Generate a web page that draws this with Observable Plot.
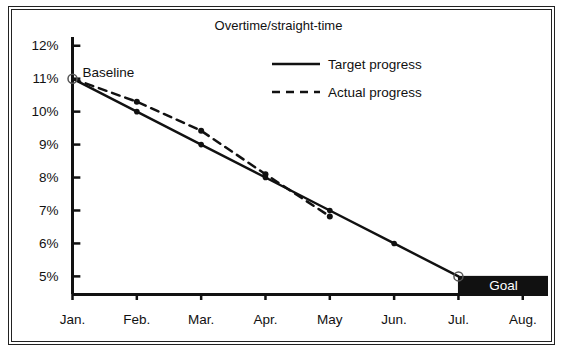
<!DOCTYPE html>
<html><head><meta charset="utf-8">
<script src="https://cdn.jsdelivr.net/npm/d3@7"></script>
<script src="https://cdn.jsdelivr.net/npm/@observablehq/plot@0.6"></script>
<style>
body{margin:0;background:#fff;font-family:"Liberation Sans",Arial,sans-serif;}
#wrap{position:relative;width:566px;height:351px;}
#frame{position:absolute;left:8px;top:6px;width:539px;height:331px;border:4px double #222;}
#chart{position:absolute;left:0;top:0;}
#legend{position:absolute;left:272px;top:56px;font-size:13.5px;color:#111;}
#legend div{display:flex;align-items:center;height:16px;margin-bottom:12px;}
#legend svg{margin-right:6px;}
</style></head>
<body><div id="wrap"><div id="frame"></div><div id="chart"></div>
<div id="legend">
<div><svg width="50" height="6"><line x1="0" y1="3" x2="48" y2="3" stroke="#111" stroke-width="2.5"/></svg>Target progress</div>
<div><svg width="50" height="6"><line x1="0" y1="3" x2="48" y2="3" stroke="#111" stroke-width="2.5" stroke-dasharray="8,6"/></svg>Actual progress</div>
</div></div>
<script>
const months = ["Jan.","Feb.","Mar.","Apr.","May","Jun.","Jul.","Aug."];
const targetMonths = [0,1,2,3,4,5,6];
const targetValues = [11,10,9,8,7,6,5];
const actualMonths = [0,1,2,3,4];
const actualValues = [11,10.3,9.42,8.1,6.82];
const yTicks = [5,6,7,8,9,10,11,12];
const title = "Overtime/straight-time";
const baselineLabel = "Baseline";
const goalLabel = "Goal";
const goalValue = 5;
const goalMonth = 6;

const xMax = 7.4, yMin = 4.45, yMax = 12.25;
const target = targetMonths.map((m,i)=>({m, v: targetValues[i]}));
const actual = actualMonths.map((m,i)=>({m, v: actualValues[i]}));
const ink = "#111";

const chart = Plot.plot({
  width: 566, height: 351,
  marginLeft: 72, marginRight: 18, marginTop: 37, marginBottom: 57,
  style: {fontFamily: "'Liberation Sans', Arial, sans-serif", fontSize: "13px", color: ink, background: "transparent"},
  x: {domain: [0, xMax]},
  y: {domain: [yMin, yMax]},
  marks: [
    Plot.rect([{x1: goalMonth, x2: xMax, y1: yMin, y2: goalValue}], {x1:"x1", x2:"x2", y1:"y1", y2:"y2", fill: ink}),
    Plot.text([goalLabel], {x: () => (goalMonth + xMax)/2, y: () => (yMin + goalValue)/2, fill: "white", fontSize: 13.5, text: d => d}),
    Plot.axisY(yTicks, {tickSize: 0, tickPadding: 14, tickFormat: d => d + "%", label: null, fontSize: 13.5}),
    Plot.ruleY(yTicks, {x1: 0, x2: 0.13, stroke: ink, strokeWidth: 2.5}),
    Plot.axisX(d3.range(months.length), {tickSize: 6, tickPadding: 14, tickFormat: d => months[d], label: null, strokeWidth: 2.5, fontSize: 13.5}),
    Plot.ruleX([0], {y1: yMin, y2: yMax, stroke: ink, strokeWidth: 3}),
    Plot.ruleY([yMin], {x1: 0, x2: xMax, stroke: ink, strokeWidth: 3}),
    Plot.line(target, {x: "m", y: "v", stroke: ink, strokeWidth: 2.4}),
    Plot.line(actual, {x: "m", y: "v", stroke: ink, strokeWidth: 2.5, strokeDasharray: "8,6"}),
    Plot.dot(target.slice(1, -1), {x: "m", y: "v", r: 2.8, fill: ink}),
    Plot.dot(actual.slice(1), {x: "m", y: "v", r: 3, fill: ink}),
    Plot.dot([target[0], target[target.length-1]], {x: "m", y: "v", r: 4.5, stroke: "#555", strokeWidth: 1.5, fill: "none"}),
    Plot.text([baselineLabel], {x: () => targetMonths[0], y: () => targetValues[0], text: d => d, textAnchor: "start", dx: 10, dy: -6, fontSize: 13.5, fill: ink}),
    Plot.text([title], {frameAnchor: "top-left", dx: 206, dy: -17, text: d => d, textAnchor: "middle", fontSize: 13, fill: ink})
  ]
});
document.getElementById("chart").appendChild(chart);
</script></body></html>
